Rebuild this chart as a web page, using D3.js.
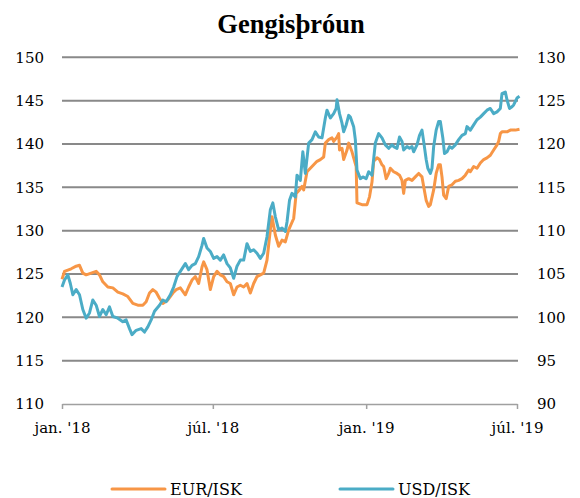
<!DOCTYPE html>
<html><head><meta charset="utf-8">
<script src="https://cdn.jsdelivr.net/npm/d3@7/dist/d3.min.js"></script>
<style>body{margin:0;background:#fff}svg{display:block}</style>
</head><body><svg id="c" width="580" height="498"></svg>
<script>
const chartTitle = "Gengisþróun";
const seriesNames = ["EUR/ISK", "USD/ISK"];
const seriesColors = ["#F79646", "#4BACC6"];
const leftTicks = [110, 115, 120, 125, 130, 135, 140, 145, 150];
const rightTicks = [90, 95, 100, 105, 110, 115, 120, 125, 130];
const xTickDates = ["2018-01-01", "2018-07-01", "2019-01-01", "2019-07-01"];
const xTickLabels = ["jan. '18", "júl. '18", "jan. '19", "júl. '19"];

// EUR/ISK (left axis)
const eurDates = [
"2018-01-01","2018-01-04","2018-01-12","2018-01-18","2018-01-22","2018-01-26","2018-01-30","2018-02-05","2018-02-11","2018-02-15",
"2018-02-19","2018-02-25","2018-03-03","2018-03-09","2018-03-15","2018-03-21","2018-03-27","2018-04-02","2018-04-08","2018-04-12",
"2018-04-16","2018-04-20","2018-04-24","2018-04-28","2018-05-02","2018-05-08","2018-05-14","2018-05-18","2018-05-23","2018-05-29",
"2018-06-02","2018-06-06","2018-06-10","2018-06-14","2018-06-18","2018-06-20","2018-06-24","2018-06-28","2018-07-02","2018-07-06",
"2018-07-10","2018-07-14","2018-07-18","2018-07-22","2018-07-26","2018-07-30","2018-08-03","2018-08-07","2018-08-11","2018-08-15",
"2018-08-19","2018-08-23","2018-08-27","2018-08-31","2018-09-04","2018-09-08","2018-09-10","2018-09-14","2018-09-18","2018-09-22",
"2018-09-26","2018-09-30","2018-10-06","2018-10-09","2018-10-13","2018-10-16","2018-10-18","2018-10-22","2018-10-26","2018-10-30",
"2018-11-03","2018-11-07","2018-11-11","2018-11-13","2018-11-17","2018-11-21","2018-11-23","2018-11-27","2018-11-29","2018-11-30",
"2018-12-03","2018-12-05","2018-12-09","2018-12-11","2018-12-15","2018-12-17","2018-12-20","2018-12-21","2018-12-27","2019-01-02",
"2019-01-05","2019-01-08","2019-01-10","2019-01-14","2019-01-17","2019-01-20","2019-01-22","2019-01-25","2019-01-28","2019-01-30",
"2019-02-03","2019-02-07","2019-02-10","2019-02-13","2019-02-15","2019-02-17","2019-02-21","2019-02-25","2019-03-01","2019-03-05",
"2019-03-09","2019-03-11","2019-03-14","2019-03-17","2019-03-19","2019-03-23","2019-03-26","2019-03-29","2019-03-31","2019-04-02",
"2019-04-04","2019-04-07","2019-04-10","2019-04-14","2019-04-18","2019-04-22","2019-04-26","2019-04-30","2019-05-04","2019-05-06",
"2019-05-10","2019-05-14","2019-05-18","2019-05-22","2019-05-26","2019-05-30","2019-06-03","2019-06-07","2019-06-09","2019-06-11",
"2019-06-13","2019-06-19","2019-06-23","2019-06-29","2019-07-04"];
const eurValues = [
124.4,125.3,125.6,125.9,126.0,125.1,124.9,125.1,125.3,124.9,
124.1,123.5,123.4,122.9,122.7,122.4,121.6,121.4,121.4,121.8,
122.8,123.2,122.9,122.2,121.6,122.0,122.8,123.2,123.4,122.6,
123.5,124.3,124.7,123.9,125.8,126.4,125.5,123.2,124.7,125.3,
124.9,124.7,124.1,123.9,122.6,123.5,123.7,123.5,123.9,122.8,
123.9,124.7,124.9,125.1,126.6,130.1,131.6,129.5,128.2,128.9,
128.7,130.1,131.4,134.3,134.7,135.1,134.7,136.8,137.2,137.6,
138.0,138.2,138.5,140.1,140.5,140.7,140.3,140.8,141.2,139.3,
139.5,138.2,139.3,140.1,139.1,138.4,137.4,133.2,133.0,133.0,
133.9,135.6,138.0,138.4,138.2,137.6,137.4,136.0,136.6,137.2,
136.8,136.6,136.4,135.8,134.3,135.8,136.0,135.8,136.2,136.6,
136.2,135.1,133.5,132.8,133.0,134.7,136.6,137.6,137.6,136.2,
134.1,133.7,135.1,135.3,135.7,135.8,136.0,136.4,137.0,136.8,
137.4,137.2,137.8,138.2,138.4,138.7,139.3,139.9,140.3,141.2,
141.4,141.4,141.6,141.6,141.7];

// USD/ISK (right axis)
const usdDates = [
"2018-01-01","2018-01-04","2018-01-08","2018-01-11","2018-01-14","2018-01-18","2018-01-22","2018-01-26","2018-01-30","2018-02-03",
"2018-02-07","2018-02-11","2018-02-15","2018-02-19","2018-02-23","2018-02-27","2018-03-03","2018-03-09","2018-03-15","2018-03-19",
"2018-03-23","2018-03-26","2018-03-31","2018-04-06","2018-04-10","2018-04-14","2018-04-18","2018-04-22","2018-04-28","2018-05-02",
"2018-05-06","2018-05-11","2018-05-15","2018-05-19","2018-05-23","2018-05-29","2018-06-02","2018-06-06","2018-06-10","2018-06-14",
"2018-06-18","2018-06-20","2018-06-24","2018-06-28","2018-07-02","2018-07-06","2018-07-10","2018-07-14","2018-07-18","2018-07-22",
"2018-07-26","2018-07-30","2018-08-03","2018-08-07","2018-08-11","2018-08-15","2018-08-19","2018-08-23","2018-08-27","2018-08-31",
"2018-09-04","2018-09-08","2018-09-11","2018-09-14","2018-09-18","2018-09-22","2018-09-26","2018-09-28","2018-10-01","2018-10-04",
"2018-10-08","2018-10-10","2018-10-14","2018-10-17","2018-10-20","2018-10-24","2018-10-28","2018-11-01","2018-11-05","2018-11-09",
"2018-11-13","2018-11-15","2018-11-19","2018-11-23","2018-11-26","2018-11-27","2018-11-30","2018-12-03","2018-12-05","2018-12-08",
"2018-12-11","2018-12-13","2018-12-17","2018-12-19","2018-12-21","2018-12-25","2018-12-28","2019-01-01","2019-01-04","2019-01-08",
"2019-01-12","2019-01-16","2019-01-20","2019-01-24","2019-01-28","2019-02-01","2019-02-03","2019-02-07","2019-02-10","2019-02-13",
"2019-02-15","2019-02-19","2019-02-22","2019-02-25","2019-02-27","2019-03-03","2019-03-06","2019-03-09","2019-03-11","2019-03-14",
"2019-03-16","2019-03-19","2019-03-21","2019-03-23","2019-03-26","2019-03-29","2019-03-31","2019-04-03","2019-04-05","2019-04-08",
"2019-04-11","2019-04-14","2019-04-18","2019-04-22","2019-04-26","2019-04-30","2019-05-02","2019-05-06","2019-05-10","2019-05-14",
"2019-05-18","2019-05-22","2019-05-26","2019-05-30","2019-06-03","2019-06-07","2019-06-11","2019-06-13","2019-06-17","2019-06-19",
"2019-06-22","2019-06-25","2019-06-27","2019-07-01","2019-07-04"];
const usdValues = [
103.5,104.3,104.9,103.9,102.6,103.2,102.6,100.9,99.9,100.5,
102.0,101.4,100.1,100.9,100.3,101.2,100.1,99.9,99.5,99.7,
98.7,98.0,98.5,98.7,98.3,98.9,99.7,100.7,101.4,102.0,
101.8,102.6,103.5,104.7,105.3,106.2,105.5,106.0,106.2,107.0,
108.3,109.1,108.0,107.6,106.8,107.0,106.6,107.2,106.2,105.7,
104.5,105.9,106.6,106.6,108.5,107.6,107.8,107.4,106.8,107.4,
109.3,112.4,113.2,111.6,110.1,110.3,109.9,111.0,113.5,114.3,
113.9,116.4,115.8,119.1,116.6,120.1,120.5,121.4,120.8,120.7,
123.0,123.9,123.0,123.5,124.1,125.1,123.5,122.4,121.4,122.2,
123.3,123.1,122.0,120.5,117.0,116.0,116.2,116.0,116.8,116.4,
120.1,121.2,120.7,119.9,119.5,119.9,119.7,119.5,120.8,120.3,
119.3,119.7,119.5,119.7,119.1,119.9,121.0,121.6,120.3,118.2,
117.2,116.6,117.2,119.7,121.6,122.6,122.6,120.7,118.9,119.1,
119.7,119.5,119.9,120.5,121.0,121.2,122.0,121.6,122.2,122.8,
123.1,123.5,123.9,124.1,123.5,123.7,124.1,125.8,126.0,125.1,
124.1,124.3,124.5,125.3,125.5];

const parse = d3.timeParse("%Y-%m-%d");
const svg = d3.select("#c");
const FONT = "'DejaVu Serif', serif";
const TITLE_FONT = "'Liberation Serif', 'Times New Roman', serif";

const x = d3.scaleTime().domain([parse(xTickDates[0]), parse(xTickDates[3])]).range([62, 517]);
const yL = d3.scaleLinear().domain([110, 150]).range([404, 57.3]);
const yR = d3.scaleLinear().domain([90, 130]).range([404, 57.3]);

// title
svg.append("text").attr("x", 291).attr("y", 33).attr("text-anchor", "middle")
  .attr("font-family", TITLE_FONT).attr("font-weight", "bold").attr("font-size", 26.5)
  .attr("fill", "#000").text(chartTitle);

// gridlines
svg.append("g").selectAll("line").data(leftTicks.filter(t => t > 110)).join("line")
  .attr("x1", 62).attr("x2", 518).attr("y1", d => yL(d)).attr("y2", d => yL(d))
  .attr("stroke", "#898989").attr("stroke-width", 2);

// left axis
const gL = svg.append("g").attr("transform", "translate(62,0)")
  .call(d3.axisLeft(yL).tickValues(leftTicks).tickSize(0).tickPadding(18));
gL.select(".domain").remove();
gL.selectAll("text").attr("font-family", FONT).attr("font-size", 15).attr("fill", "#000");

// right axis
const gR = svg.append("g").attr("transform", "translate(518,0)")
  .call(d3.axisRight(yR).tickValues(rightTicks).tickSize(0).tickPadding(19));
gR.select(".domain").remove();
gR.selectAll("text").attr("font-family", FONT).attr("font-size", 15).attr("fill", "#000");

// bottom axis
const gB = svg.append("g").attr("transform", `translate(0,${yL(110)})`)
  .call(d3.axisBottom(x).tickValues(xTickDates.map(parse)).tickFormat((d, i) => xTickLabels[i]).tickSize(5).tickSizeOuter(0).tickPadding(13));
gB.select(".domain").attr("stroke", "#A0A0A0").attr("stroke-width", 1.5);
gB.selectAll(".tick line").attr("stroke", "#A0A0A0").attr("stroke-width", 1.5);
gB.selectAll("text").attr("font-family", FONT).attr("font-size", 15).attr("fill", "#000");

// lines
const eur = eurDates.map((d, i) => ({ date: parse(d), value: eurValues[i] }));
const usd = usdDates.map((d, i) => ({ date: parse(d), value: usdValues[i] }));
const lineL = d3.line().x(d => x(d.date)).y(d => yL(d.value));
const lineR = d3.line().x(d => x(d.date)).y(d => yR(d.value));
svg.append("path").datum(eur).attr("d", lineL).attr("fill", "none")
  .attr("stroke", seriesColors[0]).attr("stroke-width", 3).attr("stroke-linejoin", "round");
svg.append("path").datum(usd).attr("d", lineR).attr("fill", "none")
  .attr("stroke", seriesColors[1]).attr("stroke-width", 3).attr("stroke-linejoin", "round");

// legend
const legX = [112, 340];
const leg = svg.append("g").selectAll("g").data(seriesNames).join("g")
  .attr("transform", (d, i) => `translate(${legX[i]},489)`);
leg.append("line").attr("x1", 0).attr("x2", 53).attr("y1", 0).attr("y2", 0)
  .attr("stroke", (d, i) => seriesColors[i]).attr("stroke-width", 3).attr("stroke-linecap", "round");
leg.append("text").attr("x", 58).attr("y", 6).attr("font-family", FONT).attr("font-size", 16)
  .attr("fill", "#000").text(d => d);
</script>
</body></html>
